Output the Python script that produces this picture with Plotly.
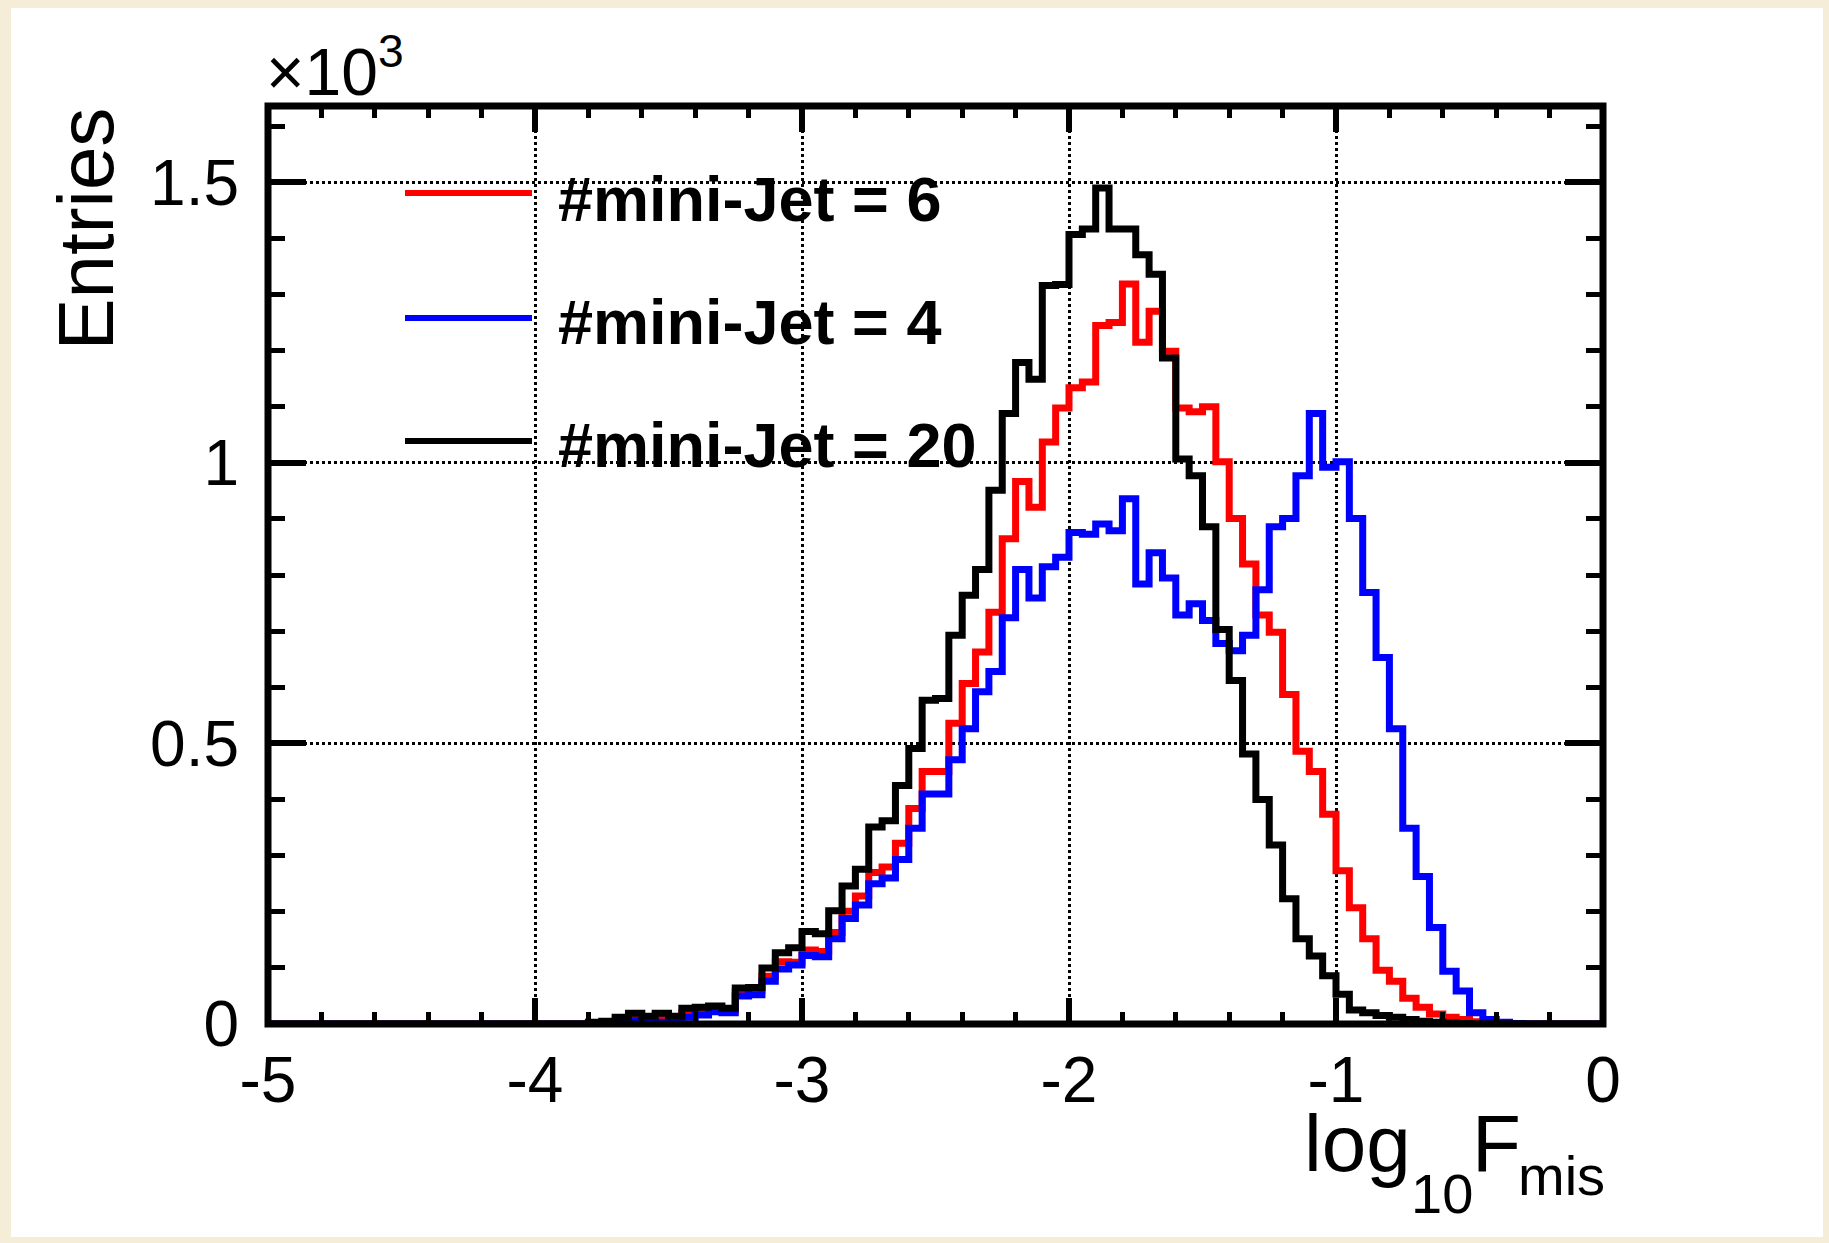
import plotly.graph_objects as go

# ---------------- data (entries per bin, in units of 10^3) ----------------
BIN_LOW = -5.0
BIN_WIDTH = 0.05
N_BINS = 100

jet6 = [0.0] * 24 + [
    0.001, 0.002, 0.005, 0.010, 0.008, 0.012, 0.010, 0.020, 0.022, 0.025,
    0.024, 0.058, 0.060, 0.085, 0.111, 0.110, 0.132, 0.129, 0.163, 0.201,
    0.228, 0.270, 0.280, 0.322, 0.384, 0.450, 0.450, 0.536, 0.607, 0.663,
    0.734, 0.865, 0.967, 0.921, 1.037, 1.098, 1.134, 1.144, 1.245, 1.250,
    1.319, 1.215, 1.270, 1.199, 1.098, 1.091, 1.100, 1.002, 0.901, 0.820,
    0.729, 0.698, 0.587, 0.486, 0.450, 0.374, 0.273, 0.207, 0.152, 0.096,
    0.076, 0.046, 0.030, 0.018, 0.012, 0.008, 0.004, 0.002, 0.001,
] + [0.0] * 7

jet4 = [0.0] * 24 + [
    0.001, 0.001, 0.002, 0.006, 0.004, 0.003, 0.002, 0.012, 0.016, 0.022,
    0.020, 0.050, 0.052, 0.076, 0.098, 0.105, 0.122, 0.120, 0.152, 0.188,
    0.212, 0.250, 0.260, 0.293, 0.349, 0.410, 0.410, 0.471, 0.526, 0.592,
    0.628, 0.724, 0.810, 0.759, 0.815, 0.832, 0.876, 0.873, 0.891, 0.879,
    0.936, 0.784, 0.840, 0.795, 0.729, 0.749, 0.719, 0.678, 0.665, 0.693,
    0.774, 0.886, 0.901, 0.977, 1.088, 0.992, 1.002, 0.901, 0.769, 0.653,
    0.526, 0.349, 0.263, 0.172, 0.094, 0.059, 0.020, 0.008, 0.003, 0.001,
] + [0.0] * 6

jet20 = [0.0] * 24 + [
    0.003, 0.005, 0.012, 0.019, 0.014, 0.019, 0.014, 0.028, 0.030, 0.032,
    0.028, 0.064, 0.065, 0.100, 0.127, 0.136, 0.165, 0.161, 0.202, 0.246,
    0.276, 0.351, 0.362, 0.425, 0.491, 0.577, 0.580, 0.693, 0.764, 0.810,
    0.951, 1.088, 1.179, 1.149, 1.316, 1.318, 1.407, 1.417, 1.490, 1.417,
    1.417, 1.371, 1.336, 1.187, 1.007, 0.977, 0.886, 0.703, 0.612, 0.481,
    0.400, 0.319, 0.223, 0.152, 0.121, 0.086, 0.053, 0.025, 0.020, 0.015,
    0.012, 0.008, 0.005, 0.003, 0.002, 0.001,
] + [0.0] * 10

SERIES_NAMES = ["#mini-Jet = 6", "#mini-Jet = 4", "#mini-Jet = 20"]
SERIES_COLORS = ["#FF0000", "#0000FF", "#000000"]

X_TICK_VALS = [-5, -4, -3, -2, -1, 0]
X_TICK_LABELS = ["-5", "-4", "-3", "-2", "-1", "0"]
Y_TICK_VALS = [0, 0.5, 1, 1.5]
Y_TICK_LABELS = ["0", "0.5", "1", "1.5"]
X_RANGE = [-5, 0]
Y_RANGE = [0, 1.636]

# ---------------- layout geometry (pixels) ----------------
W, H = 1829, 1243
L, R, T, B = 268, 1603, 106, 1024
FONT = "Liberation Sans"
BEIGE = "rgb(245,237,216)"


def px(p):
    return (p - L) / (R - L)


def py(p):
    return (B - p) / (B - T)


edges = [BIN_LOW + BIN_WIDTH * i for i in range(N_BINS + 1)]

fig = go.Figure()
for name, vals, col in zip(SERIES_NAMES, [jet6, jet4, jet20], SERIES_COLORS):
    fig.add_trace(go.Scatter(
        x=edges, y=list(vals) + [vals[-1]], mode="lines", name=name,
        line=dict(color=col, width=7, shape="hv"), showlegend=False,
        hoverinfo="skip",
    ))

minor_x = [round(-5 + 0.2 * k, 3) for k in range(26) if k % 5 != 0]
minor_y = [round(0.1 * k, 3) for k in range(17) if k % 5 != 0]

axis_common = dict(
    showline=False, mirror="allticks", ticks="inside", tickcolor="black",
    tickwidth=6, showgrid=True, gridcolor="black", gridwidth=2.5,
    griddash="dot", zeroline=False, tickmode="array",
    tickfont=dict(family=FONT, size=64, color="black"),
)

fig.update_xaxes(
    range=X_RANGE, tickvals=X_TICK_VALS, ticktext=X_TICK_LABELS, ticklen=26,
    minor=dict(tickmode="array", tickvals=minor_x, ticks="inside", ticklen=12,
               tickwidth=5, tickcolor="black", showgrid=False),
    ticklabelstandoff=13, **axis_common,
)
fig.update_yaxes(
    range=Y_RANGE, tickvals=Y_TICK_VALS, ticktext=Y_TICK_LABELS, ticklen=38,
    minor=dict(tickmode="array", tickvals=minor_y, ticks="inside", ticklen=17,
               tickwidth=5, tickcolor="black", showgrid=False),
    ticklabelstandoff=28, **axis_common,
)

shapes = [
    # white panel on the beige page
    dict(type="rect", xref="paper", yref="paper", x0=px(11), x1=px(1823),
         y0=py(1237), y1=py(8), fillcolor="white", line=dict(width=0),
         layer="below"),
    # frame
    dict(type="rect", xref="paper", yref="paper", x0=0, x1=1, y0=0, y1=1,
         line=dict(color="black", width=7), layer="above"),
]
legend_y = [193, 318, 441]
for yy, col in zip(legend_y, SERIES_COLORS):
    shapes.append(dict(type="line", xref="paper", yref="paper",
                       x0=px(405), x1=px(532), y0=py(yy), y1=py(yy),
                       line=dict(color=col, width=6), layer="above"))

annotations = []
legend_text_y = [198.5, 321.5, 445]
for yy, name in zip(legend_text_y, SERIES_NAMES):
    annotations.append(dict(
        text="<b>" + name + "</b>", xref="paper", yref="paper", x=px(556),
        y=py(yy), xanchor="left", yanchor="middle", showarrow=False,
        font=dict(family=FONT, size=63, color="black")))

# y axis title
annotations.append(dict(text="Entries", xref="paper", yref="paper", x=px(85),
                        y=py(106), xanchor="center", yanchor="top",
                        textangle=-90, showarrow=False,
                        font=dict(family=FONT, size=78, color="black")))
# x10^3 multiplier
annotations.append(dict(text="×10<sup>3</sup>", xref="paper", yref="paper",
                        x=px(264), y=py(111), xanchor="left",
                        yanchor="bottom", showarrow=False,
                        font=dict(family=FONT, size=66, color="black")))
# x axis title: log_10 F_mis
for txt, xx, bot, size in [("log", 1302, 1190, 80), ("10", 1409, 1227, 56),
                           ("F", 1470, 1190, 80), ("mis", 1516, 1209, 56)]:
    annotations.append(dict(text=txt, xref="paper", yref="paper", x=px(xx),
                            y=py(bot), xanchor="left", yanchor="bottom",
                            showarrow=False,
                            font=dict(family=FONT, size=size, color="black")))

fig.update_layout(
    width=W, height=H, autosize=False,
    margin=dict(l=L, r=W - R, t=T, b=H - B, pad=0),
    paper_bgcolor=BEIGE, plot_bgcolor="rgba(0,0,0,0)",
    shapes=shapes, annotations=annotations, showlegend=False,
    font=dict(family=FONT, color="black"),
)

fig.write_html(
    "out.html",
    config={"displayModeBar": False},
    post_script=("document.body.style.margin='0';"
                 "document.body.style.overflow='hidden';"
                 "document.body.style.background='" + BEIGE + "';"),
)
